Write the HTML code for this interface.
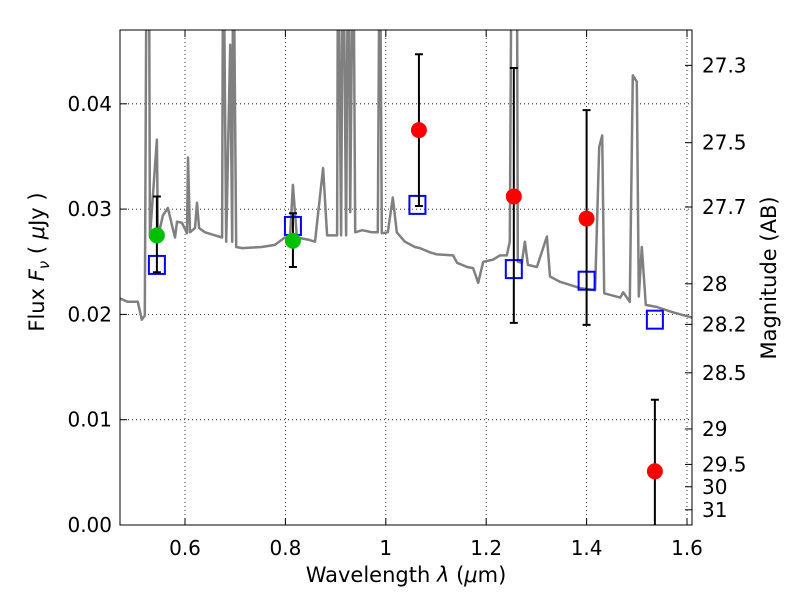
<!DOCTYPE html>
<html><head><meta charset="utf-8"><style>
body{margin:0;background:#fff}
svg text{font-family:"DejaVu Sans","Liberation Sans",sans-serif;fill:#000}
</style></head><body>
<svg id="chart" width="800" height="600" xmlns="http://www.w3.org/2000/svg">
<defs><clipPath id="clip"><rect x="120" y="30" width="572" height="495"/></clipPath></defs>
<rect width="800" height="600" fill="#fff"/>
<g id="grid"></g>
<g id="spec" clip-path="url(#clip)"></g>
<g id="marks" clip-path="url(#clip)"></g>
<rect x="120" y="30" width="572" height="495" fill="none" stroke="#000" stroke-width="1"/>
<g id="axes"></g>
<text x="406" y="582" font-size="21" text-anchor="middle">Wavelength  <tspan font-style="italic">λ</tspan> (<tspan font-style="italic">μ</tspan>m)</text>
<text transform="translate(44,262) rotate(-90)" font-size="21" text-anchor="middle">Flux  <tspan font-style="italic">F</tspan><tspan font-style="italic" font-size="15" dy="5">ν</tspan><tspan dy="-5">  ( </tspan><tspan font-style="italic">μ</tspan>Jy )</text>
<text transform="translate(776,278) rotate(-90)" font-size="21" text-anchor="middle">Magnitude (AB)</text>
</svg>
<script>
const specLam=[0.461,0.486,0.506,0.514,0.520,0.524,0.528,0.530,0.544,0.546,0.556,0.566,0.574,0.580,0.584,0.594,0.604,0.606,0.610,0.620,0.624,0.628,0.640,0.660,0.674,0.676,0.682,0.690,0.694,0.696,0.702,0.714,0.753,0.779,0.799,0.809,0.815,0.823,0.845,0.859,0.875,0.883,0.903,0.905,0.911,0.915,0.921,0.925,0.929,0.935,0.939,0.953,0.973,0.984,0.988,0.992,1.004,1.014,1.022,1.038,1.058,1.068,1.088,1.102,1.134,1.142,1.162,1.174,1.184,1.194,1.214,1.227,1.241,1.247,1.251,1.261,1.263,1.271,1.277,1.283,1.301,1.321,1.327,1.347,1.387,1.417,1.425,1.431,1.435,1.467,1.473,1.486,1.492,1.500,1.504,1.510,1.518,1.540,1.572,1.610];
const specFlux=[0.0217,0.0212,0.0212,0.0195,0.0199,0.06,0.06,0.0273,0.0366,0.0273,0.0294,0.0301,0.0285,0.0273,0.0288,0.0287,0.0277,0.0349,0.0278,0.0282,0.0306,0.0282,0.0278,0.0275,0.0273,0.06,0.0269,0.0456,0.0269,0.06,0.0264,0.0263,0.0264,0.0266,0.0273,0.0271,0.0323,0.0273,0.0271,0.0269,0.0339,0.0275,0.0275,0.06,0.0275,0.06,0.0275,0.06,0.0297,0.06,0.0278,0.0280,0.0278,0.0278,0.06,0.0277,0.0278,0.0311,0.0278,0.0269,0.0264,0.0263,0.0259,0.0257,0.0256,0.0249,0.0245,0.0244,0.0230,0.0250,0.0252,0.0256,0.0256,0.0269,0.06,0.06,0.0250,0.0249,0.0269,0.0247,0.0245,0.0274,0.0236,0.0231,0.0225,0.0223,0.0359,0.0370,0.0220,0.0216,0.0221,0.0212,0.0427,0.0421,0.0217,0.0264,0.0209,0.0207,0.0202,0.0197];
const greenLam=[0.544,0.815];
const greenFlux=[0.0275,0.0270];
const greenLo=[0.0240,0.0245];
const greenHi=[0.0312,0.0296];
const redLam=[1.066,1.255,1.400,1.536];
const redFlux=[0.0375,0.0312,0.0291,0.0051];
const redLo=[0.0303,0.0192,0.0190,-0.001];
const redHi=[0.0447,0.0434,0.0394,0.0119];
const blueLam=[0.544,0.815,1.063,1.255,1.400,1.536];
const blueFlux=[0.0247,0.0284,0.0304,0.0243,0.0232,0.0195];
const xTicks=[0.6,0.8,1.0,1.2,1.4,1.6];
const xTickLabels=["0.6","0.8","1","1.2","1.4","1.6"];
const yTicks=[0,0.01,0.02,0.03,0.04];
const yTickLabels=["0.00","0.01","0.02","0.03","0.04"];
const magTicks=[27.3,27.5,27.7,28,28.2,28.5,29,29.5,30,31];
const magLabels=["27.3","27.5","27.7","28","28.2","28.5","29","29.5","30","31"];

const X=l=>185+(l-0.6)*502;
const Y=f=>525-f*10530;
const NS="http://www.w3.org/2000/svg";
function mk(parent,tag,attrs){const e=document.createElementNS(NS,tag);for(const k in attrs)e.setAttribute(k,attrs[k]);document.getElementById(parent).appendChild(e);return e;}

xTicks.forEach((t,i)=>{
  const x=X(t);
  const g=mk('grid','line',{x1:x,x2:x,y1:30,y2:525,stroke:'#000','stroke-width':0.8,'stroke-dasharray':'1,3'});
  
  
  mk('axes','line',{x1:x,x2:x,y1:525,y2:518,stroke:'#000'});
  mk('axes','line',{x1:x,x2:x,y1:30,y2:37,stroke:'#000'});
  const tx=mk('axes','text',{x:x,y:555,'font-size':20,'text-anchor':'middle'});
  tx.textContent=xTickLabels[i];
  
  
});
yTicks.forEach((t,i)=>{
  const y=Y(t);
  const g=mk('grid','line',{x1:120,x2:692,y1:y,y2:y,stroke:'#000','stroke-width':0.8,'stroke-dasharray':'1,3'});
  
  
  mk('axes','line',{x1:120,x2:127,y1:y,y2:y,stroke:'#000'});
  const tx=mk('axes','text',{x:112,y:y+7,'font-size':20,'text-anchor':'end'});
  tx.textContent=yTickLabels[i];
  
  
});
magTicks.forEach((m,i)=>{
  const y=Y(Math.pow(10,(23.9-m)/2.5));
  mk('axes','line',{x1:692,x2:685,y1:y,y2:y,stroke:'#000'});
  const tx=mk('axes','text',{x:702,y:y+7,'font-size':20,'text-anchor':'start'});
  tx.textContent=magLabels[i];
  
  
});

const pts=specLam.map((l,i)=>X(l).toFixed(1)+','+Y(specFlux[i]).toFixed(1)).join(' ');
const pl=mk('spec','polyline',{points:pts,fill:'none',stroke:'#808080','stroke-width':2.5,'stroke-linejoin':'round'});



function errbar(l,lo,hi){
  const x=X(l);
  const e=mk('marks','path',{d:`M${x},${Y(lo)}V${Y(hi)}M${x-4},${Y(lo)}h8M${x-4},${Y(hi)}h8`,stroke:'#000','stroke-width':2,fill:'none'});
  
  
}
blueLam.forEach((l,i)=>{
  const r=mk('marks','rect',{x:X(l)-8,y:Y(blueFlux[i])-9,width:16,height:18,fill:'none',stroke:'#0000ff','stroke-width':2});
  
  
});
greenLam.forEach((l,i)=>{
  errbar(l,greenLo[i],greenHi[i]);
  const c=mk('marks','circle',{cx:X(l),cy:Y(greenFlux[i]),r:8,fill:'#00c000'});
  
  
});
redLam.forEach((l,i)=>{
  errbar(l,redLo[i],redHi[i]);
  const c=mk('marks','circle',{cx:X(l),cy:Y(redFlux[i]),r:8,fill:'#ff0000'});
  
  
});
</script>
</body></html>
